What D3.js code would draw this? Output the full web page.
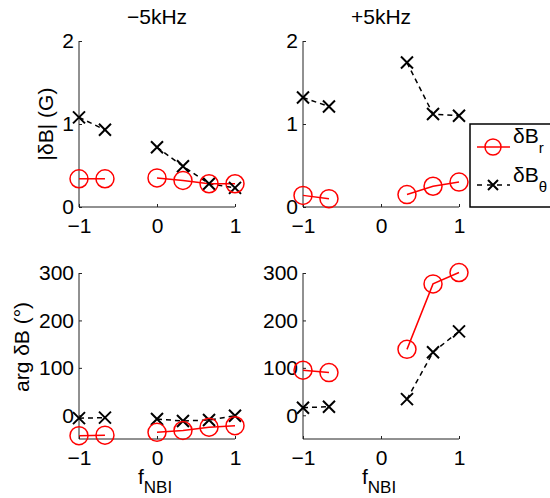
<!DOCTYPE html>
<html>
<head>
<meta charset="utf-8">
<script src="https://cdn.jsdelivr.net/npm/d3@7"></script>
<style>
  body { margin: 0; background: #fff; }
  text { font-family: "Liberation Sans", Arial, Helvetica, sans-serif; fill: #000; }
</style>
</head>
<body>
<div id="chart"></div>
<script>
// ---- data ----
const fNBI = [-1, -0.667, 0, 0.333, 0.667, 1];
const scanGroup = [0, 0, 1, 1, 1, 1];   // lines are broken between the two scans

// |dB| (G)
const ampBrMinus = [0.34, 0.34, 0.35, 0.32, 0.28, 0.28];
const ampBthMinus = [1.08, 0.93, 0.72, 0.49, 0.28, 0.23];
const ampBrPlus = [0.14, 0.10, null, 0.15, 0.25, 0.30];
const ampBthPlus = [1.32, 1.21, null, 1.74, 1.12, 1.10];

// arg dB (deg)
const argBrMinus = [-43, -42, -36, -32, -25, -22];
const argBthMinus = [-6, -5, -8, -12, -10, -1];
const argBrPlus = [95, 90, null, 139, 277, 301];
const argBthPlus = [16, 18, null, 34, 133, 177];

const xTicks = [-1, 0, 1];
const ampTicks = [0, 1, 2];
const argTicks = [0, 100, 200, 300];
const titles = ["\u22125kHz", "+5kHz"];

// ---- layout ----
let width = 550, height = 498;
let svg = d3.select("#chart").append("svg")
    .attr("width", width).attr("height", height);

const colLeft = [79, 303], colW = 156;
const rowTop = [41, 273], rowH = 166;
const fs = "21px";

const panels = [
    { col: 0, row: 0, br: ampBrMinus, bth: ampBthMinus, dom: [0, 2], ticks: ampTicks },
    { col: 1, row: 0, br: ampBrPlus, bth: ampBthPlus, dom: [0, 2], ticks: ampTicks },
    { col: 0, row: 1, br: argBrMinus, bth: argBthMinus, dom: [-50, 300], ticks: argTicks },
    { col: 1, row: 1, br: argBrPlus, bth: argBthPlus, dom: [-50, 300], ticks: argTicks }
];

// MATLAB-style minus sign
const fmt = d => d < 0 ? "\u2212" + Math.abs(d) : String(d);

function drawX(g, cx, cy, s) {
    g.append("path")
        .attr("d", `M${cx - s},${cy - s}L${cx + s},${cy + s}M${cx - s},${cy + s}L${cx + s},${cy - s}`)
        .attr("stroke", "#000").attr("stroke-width", 2).attr("fill", "none");
}

panels.forEach(function (p) {
    let g = svg.append("g")
        .attr("transform", `translate(${colLeft[p.col]}, ${rowTop[p.row]})`);

    let x = d3.scaleLinear().domain([-1, 1]).range([0, colW]);
    let y = d3.scaleLinear().domain(p.dom).range([rowH, 0]);

    // axes (box off, ticks pointing in)
    let xAxis = d3.axisBottom(x).tickValues(xTicks).tickSize(-3).tickPadding(11).tickFormat(fmt);
    let yAxis = d3.axisLeft(y).tickValues(p.ticks).tickSize(-3).tickPadding(5).tickFormat(fmt);

    let gx = g.append("g").attr("transform", `translate(0, ${rowH})`).call(xAxis);
    let gy = g.append("g").call(yAxis);
    gx.select(".domain").attr("d", `M0,0H${colW}`);
    gy.select(".domain").attr("d", `M0,0V${rowH}`);
    [gx, gy].forEach(a => {
        a.select(".domain").attr("stroke", "#222");
        a.selectAll(".tick line").attr("stroke", "#222");
        a.selectAll(".tick text").style("font-size", fs).attr("fill", "#000");
    });

    // lines + markers, one segment per scan
    let series = fNBI.map((f, i) => ({ f: f, br: p.br[i], bth: p.bth[i], grp: scanGroup[i] }))
        .filter(d => d.br !== null);
    let groups = d3.groups(series, d => d.grp);

    let lineBr = d3.line().x(d => x(d.f)).y(d => y(d.br));
    let lineBth = d3.line().x(d => x(d.f)).y(d => y(d.bth));

    groups.forEach(function ([k, pts]) {
        g.append("path").datum(pts).attr("d", lineBth)
            .attr("fill", "none").attr("stroke", "#000")
            .attr("stroke-width", 1.5).attr("stroke-dasharray", "5,4");
        g.append("path").datum(pts).attr("d", lineBr)
            .attr("fill", "none").attr("stroke", "#f00").attr("stroke-width", 1.5);
    });

    series.forEach(d => drawX(g, x(d.f), y(d.bth), 6));

    g.selectAll("circle.br").data(series).enter()
        .append("circle").attr("class", "br")
        .attr("cx", d => x(d.f)).attr("cy", d => y(d.br)).attr("r", 9)
        .attr("fill", "none").attr("stroke", "#f00").attr("stroke-width", 1.5);

    // titles and x labels
    if (p.row === 0) {
        g.append("text").attr("x", colW / 2).attr("y", -17)
            .attr("text-anchor", "middle").style("font-size", fs)
            .text(titles[p.col]);
    } else {
        let t = g.append("text").attr("x", colW / 2 - 19).attr("y", rowH + 45)
            .style("font-size", fs);
        t.append("tspan").text("f");
        t.append("tspan").attr("dy", 9).style("font-size", "17px").text("NBI");
    }
});

// y labels
svg.append("text")
    .attr("transform", "translate(53, 124) rotate(-90)")
    .attr("text-anchor", "middle").style("font-size", fs)
    .text("|\u03b4B| (G)");
svg.append("text")
    .attr("transform", "translate(29, 347) rotate(-90)")
    .attr("text-anchor", "middle").style("font-size", fs)
    .text("arg \u03b4B (\u00b0)");

// legend
let leg = svg.append("g").attr("transform", "translate(470, 124)");
leg.append("rect").attr("width", 90).attr("height", 83)
    .attr("fill", "#fff").attr("stroke", "#000").attr("stroke-width", 1.5);

leg.append("line").attr("x1", 7).attr("x2", 40).attr("y1", 23).attr("y2", 23)
    .attr("stroke", "#f00").attr("stroke-width", 1.5);
leg.append("circle").attr("cx", 23).attr("cy", 23).attr("r", 8)
    .attr("fill", "none").attr("stroke", "#f00").attr("stroke-width", 1.5);
let t1 = leg.append("text").attr("x", 43).attr("y", 19).style("font-size", fs);
t1.append("tspan").text("\u03b4B");
t1.append("tspan").attr("dy", 10).style("font-size", "15px").text("r");

leg.append("line").attr("x1", 7).attr("x2", 40).attr("y1", 61).attr("y2", 61)
    .attr("stroke", "#000").attr("stroke-width", 1.5).attr("stroke-dasharray", "5,5");
drawX(leg, 23, 61, 5);
let t2 = leg.append("text").attr("x", 43).attr("y", 58).style("font-size", fs);
t2.append("tspan").text("\u03b4B");
t2.append("tspan").attr("dy", 10).style("font-size", "15px").text("\u03b8");
</script>
</body>
</html>
